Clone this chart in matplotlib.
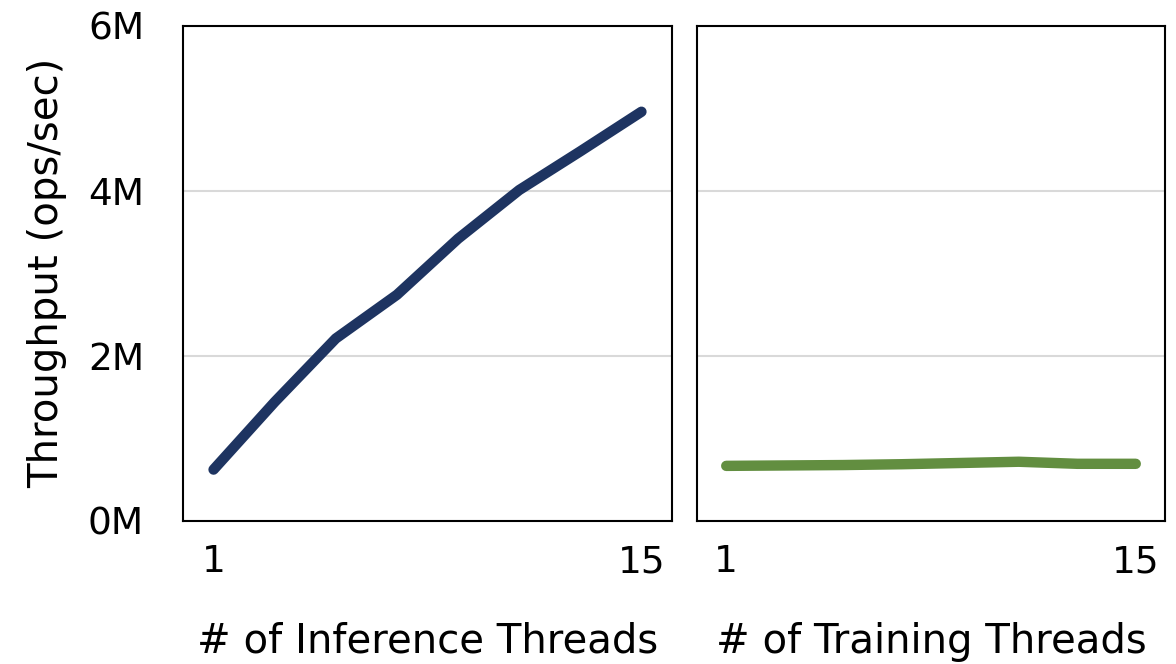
import matplotlib
matplotlib.use("Agg")
import matplotlib.pyplot as plt

plt.rcParams['font.family'] = ['DejaVu Sans']

threads = [1, 3, 5, 7, 9, 11, 13, 15]
inference_tput = [0.62, 1.44, 2.21, 2.74, 3.42, 4.01, 4.48, 4.96]  # millions ops/sec
training_tput = [0.665, 0.67, 0.675, 0.685, 0.70, 0.715, 0.69, 0.69]
y_ticks = [0, 2, 4, 6]
y_tick_labels = ["0M", "2M", "4M", "6M"]
x_ticks = [1, 15]
x_tick_labels = ["1", "15"]

fig = plt.figure(figsize=(11.76, 6.64), dpi=100)
ax1 = fig.add_axes([183/1176, 1-520.7/664, (672-183)/1176, (520.7-26)/664])
ax2 = fig.add_axes([697/1176, 1-520.7/664, (1165-697)/1176, (520.7-26)/664])

fs_tick = 27
fs_lab = 29
for ax, y, color, label in [
    (ax1, inference_tput, "#1e3461", "# of Inference Threads"),
    (ax2, training_tput, "#628e40", "# of Training Threads"),
]:
    ax.plot(threads, y, color=color, lw=7.5, solid_capstyle="round", solid_joinstyle="round", zorder=3)
    ax.set_xlim(0, 16)
    ax.set_ylim(0, 6)
    ax.set_yticks(y_ticks)
    ax.set_xticks(x_ticks)
    ax.set_xticklabels(x_tick_labels, fontsize=fs_tick)
    ax.grid(axis='y', color='#d9d9d9', lw=1.5, zorder=0)
    ax.tick_params(length=0, pad=17)
    ax.set_xlabel(label, fontsize=fs_lab, labelpad=30)
    for s in ax.spines.values():
        s.set_linewidth(1.5)
        s.set_color('black')

ax1.set_yticklabels(y_tick_labels, fontsize=fs_tick)
ax1.tick_params(axis='y', pad=28)
ax2.set_yticklabels([])
ax1.set_ylabel("Throughput (ops/sec)", fontsize=fs_lab, labelpad=15)

fig.savefig("out.png", dpi=100)
